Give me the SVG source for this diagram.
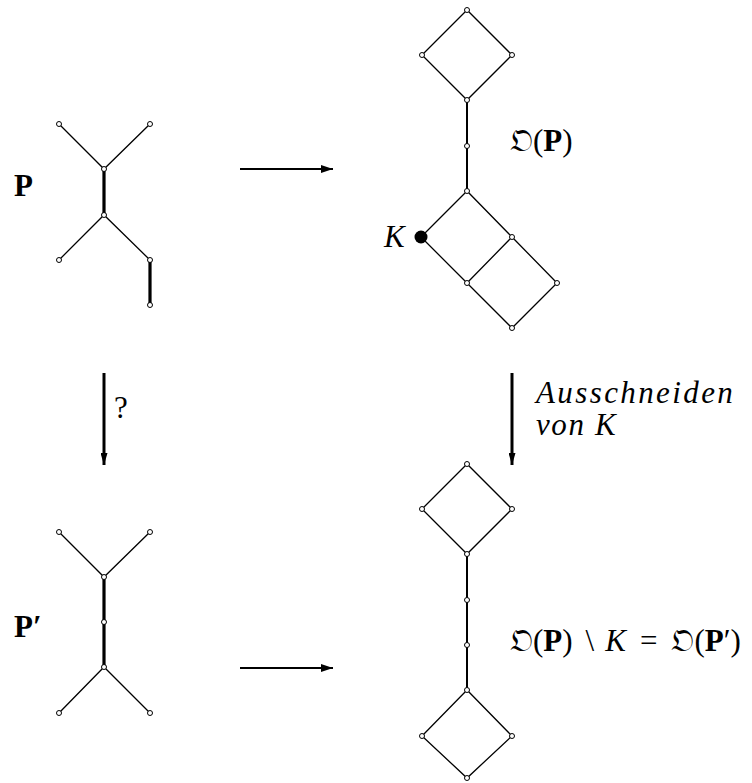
<svg xmlns="http://www.w3.org/2000/svg" width="752" height="783" viewBox="0 0 752 783">
  <style>
    .thin { stroke: #000; stroke-width: 1.3; fill: none; }
    .mid { stroke: #000; stroke-width: 2; fill: none; }
    .thick { stroke: #000; stroke-width: 3.2; fill: none; }
    .node { fill: #fff; stroke: #000; stroke-width: 1; }
    .lbl { font-family: "Liberation Serif", "DejaVu Serif", serif; font-size: 31px; fill: #000; }
    .b { font-weight: bold; }
    .i { font-style: italic; }
    .frak { font-family: "DejaVu Serif", "DejaVu Sans", "Noto Sans", serif; font-weight: normal; font-style: normal; }
  </style>
  <defs>
    <marker id="ah" viewBox="0 0 12 8" refX="12" refY="4" markerWidth="12" markerHeight="8" markerUnits="userSpaceOnUse" orient="auto">
      <path d="M0,0 L12,4 L0,8 Z" fill="#000"/>
    </marker>
    <marker id="ahv" viewBox="0 0 12 7" refX="12" refY="3.5" markerWidth="12" markerHeight="7" markerUnits="userSpaceOnUse" orient="auto">
      <path d="M0,0 L12,3.5 L0,7 Z" fill="#000"/>
    </marker>
  </defs>

  <!-- connectors between the four panels -->
  <g id="connectors">
    <line x1="240" y1="169" x2="333" y2="169" stroke="#000" stroke-width="1.8" marker-end="url(#ah)"/>
    <line x1="240" y1="668" x2="333" y2="668" stroke="#000" stroke-width="1.8" marker-end="url(#ah)"/>
    <line x1="104" y1="373" x2="104" y2="465" stroke="#000" stroke-width="3" marker-end="url(#ahv)"/>
    <line x1="512" y1="373" x2="512" y2="465" stroke="#000" stroke-width="3" marker-end="url(#ahv)"/>
    <text class="lbl" x="114" y="418" font-size="29">?</text>
    <text class="lbl i" x="536" y="403" font-size="30" letter-spacing="2.4">Ausschneiden</text>
    <text class="lbl i" x="536" y="435" font-size="30" letter-spacing="1.6">von K</text>
  </g>

  <!-- poset P -->
  <g id="poset-P">
    <text class="lbl b" x="14" y="196">P</text>
    <path class="thin" d="M59,124 L104,169 L150,124 M59,260 L104,215 L150,260"/>
    <path class="thick" d="M104,169 L104,215 M150,260 L150,305"/>
    <circle class="node" cx="59" cy="124" r="2.5"/>
    <circle class="node" cx="150" cy="124" r="2.5"/>
    <circle class="node" cx="104" cy="169" r="2.5"/>
    <circle class="node" cx="104" cy="215" r="2.5"/>
    <circle class="node" cx="59" cy="260" r="2.5"/>
    <circle class="node" cx="150" cy="260" r="2.5"/>
    <circle class="node" cx="150" cy="305" r="2.5"/>
  </g>

  <!-- lattice O(P) -->
  <g id="lattice-OP">
    <path class="thin" d="M467,10 L422,55 L467,100 L512,55 Z"/>
    <path class="mid" d="M467,100 L467,191"/>
    <path class="thin" d="M467,191 L421,237 L467,283 L512,328 L557,283 L512,237 Z M512,237 L467,283"/>
    <circle class="node" cx="467" cy="10" r="2.5"/>
    <circle class="node" cx="422" cy="55" r="2.5"/>
    <circle class="node" cx="512" cy="55" r="2.5"/>
    <circle class="node" cx="467" cy="100" r="2.5"/>
    <circle class="node" cx="467" cy="146" r="2.5"/>
    <circle class="node" cx="467" cy="191" r="2.5"/>
    <circle cx="421" cy="237" r="6.5" fill="#000"/>
    <circle class="node" cx="512" cy="237" r="2.5"/>
    <circle class="node" cx="467" cy="283" r="2.5"/>
    <circle class="node" cx="557" cy="283" r="2.5"/>
    <circle class="node" cx="512" cy="328" r="2.5"/>
    <text class="lbl i" x="384" y="247">K</text>
    <text class="lbl" x="510" y="151"><tspan class="frak">𝔒</tspan>(<tspan class="b">P</tspan>)</text>
  </g>

  <!-- poset P' -->
  <g id="poset-P-prime">
    <text class="lbl b" x="14" y="637">P′</text>
    <path class="thin" d="M59,532 L104,577 L150,532 M59,713 L104,667 L150,713"/>
    <path class="thick" d="M104,577 L104,667"/>
    <circle class="node" cx="59" cy="532" r="2.5"/>
    <circle class="node" cx="150" cy="532" r="2.5"/>
    <circle class="node" cx="104" cy="577" r="2.5"/>
    <circle class="node" cx="104" cy="622" r="2.5"/>
    <circle class="node" cx="104" cy="667" r="2.5"/>
    <circle class="node" cx="59" cy="713" r="2.5"/>
    <circle class="node" cx="150" cy="713" r="2.5"/>
  </g>

  <!-- lattice O(P) \ K = O(P') -->
  <g id="lattice-OP-prime">
    <path class="thin" d="M467,464 L422,509 L467,554 L512,509 Z"/>
    <path class="mid" d="M467,554 L467,690"/>
    <path class="thin" d="M467,690 L422,736 L467,778 L512,736 Z"/>
    <circle class="node" cx="467" cy="464" r="2.5"/>
    <circle class="node" cx="422" cy="509" r="2.5"/>
    <circle class="node" cx="512" cy="509" r="2.5"/>
    <circle class="node" cx="467" cy="554" r="2.5"/>
    <circle class="node" cx="467" cy="600" r="2.5"/>
    <circle class="node" cx="467" cy="645" r="2.5"/>
    <circle class="node" cx="467" cy="690" r="2.5"/>
    <circle class="node" cx="422" cy="736" r="2.5"/>
    <circle class="node" cx="512" cy="736" r="2.5"/>
    <circle class="node" cx="467" cy="778" r="2.5"/>
    <text class="lbl" x="510" y="651"><tspan class="frak">𝔒</tspan>(<tspan class="b">P</tspan>)<tspan dx="13">\</tspan><tspan dx="11" class="i">K</tspan><tspan dx="14">=</tspan><tspan dx="14" class="frak">𝔒</tspan>(<tspan class="b">P</tspan>′)</text>
  </g>
</svg>
